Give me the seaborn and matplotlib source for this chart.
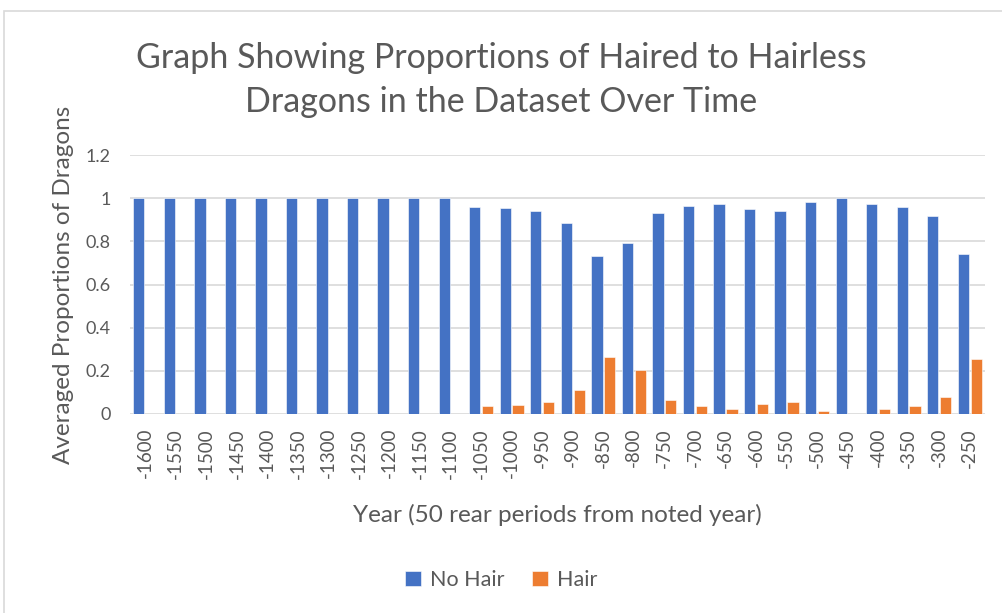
import pandas as pd
import seaborn as sns
import matplotlib.pyplot as plt
from matplotlib.patches import Rectangle
from matplotlib.ticker import FuncFormatter

# 数据
years = [-1600, -1550, -1500, -1450, -1400, -1350, -1300, -1250, -1200, -1150,
         -1100, -1050, -1000, -950, -900, -850, -800, -750, -700, -650,
         -600, -550, -500, -450, -400, -350, -300, -250]
no_hair = [1, 1, 1, 1, 1, 1, 1, 1, 1, 1,
           1, 0.96, 0.955, 0.942, 0.886, 0.733, 0.79, 0.933, 0.963, 0.975,
           0.949, 0.941, 0.983, 1, 0.975, 0.96, 0.919, 0.742]
hair = [0, 0, 0, 0, 0, 0, 0, 0, 0, 0,
        0, 0.039, 0.042, 0.056, 0.112, 0.264, 0.205, 0.064, 0.036, 0.023,
        0.047, 0.057, 0.013, 0, 0.022, 0.037, 0.079, 0.256]
series = ['No Hair', 'Hair']
colors = ['#4472C4', '#ED7D31']
grey = '#595959'

df = pd.DataFrame({'Year': [str(y) for y in years] * 2,
                   'Proportion': no_hair + hair,
                   'Type': [series[0]] * len(years) + [series[1]] * len(years)})

sns.set_style('white')
plt.rcParams['font.family'] = ['Lato', 'DejaVu Sans']

fig = plt.figure(figsize=(10.02, 6.13), dpi=100)
ax = fig.add_axes([130 / 1002, 1 - 414 / 613, 855 / 1002, 259 / 613])

sns.barplot(data=df, x='Year', y='Proportion', hue='Type', palette=colors,
            saturation=1, width=0.84, gap=0.12, edgecolor='white', linewidth=0.4,
            ax=ax, zorder=3)

ax.set_ylim(0, 1.2)
ax.set_yticks([0, 0.2, 0.4, 0.6, 0.8, 1.0, 1.2])
ax.yaxis.set_major_formatter(FuncFormatter(lambda v, p: f'{v:g}'))
ax.set_xlim(-0.5, len(years) - 0.5)
ax.grid(axis='y', color='#d9d9d9', linewidth=1.2, zorder=0)
for s in ax.spines.values():
    s.set_visible(False)
ax.tick_params(axis='x', rotation=90, labelsize=13.5, colors=grey, length=0, pad=10)
ax.tick_params(axis='y', labelsize=13, colors=grey, length=0, pad=14)

ax.set_xlabel('Year (50 rear periods from noted year)', fontsize=17.5, color=grey, labelpad=18)
ax.set_ylabel('Averaged Proportions of Dragons', fontsize=17.5, color=grey, labelpad=8)

fig.text(0.5, 1 - 80 / 613, 'Graph Showing Proportions of Haired to Hairless\nDragons in the Dataset Over Time',
         ha='center', va='center', fontsize=24.5, color=grey, linespacing=1.45)

ax.legend(loc='center', bbox_to_anchor=(0.5, 1 - 580 / 613), bbox_transform=fig.transFigure,
          ncol=2, frameon=False, fontsize=15.5, labelcolor=grey,
          handlelength=0.75, handleheight=0.75, handletextpad=0.4, columnspacing=1.3)

# 图表区边框
fig.patches.append(Rectangle((4 / 1002, -0.1), 1.2, 1 - 11 / 613 + 0.1, transform=fig.transFigure,
                             fill=False, edgecolor='#d9d9d9', linewidth=1.2))

fig.savefig('out.png', dpi=100)
